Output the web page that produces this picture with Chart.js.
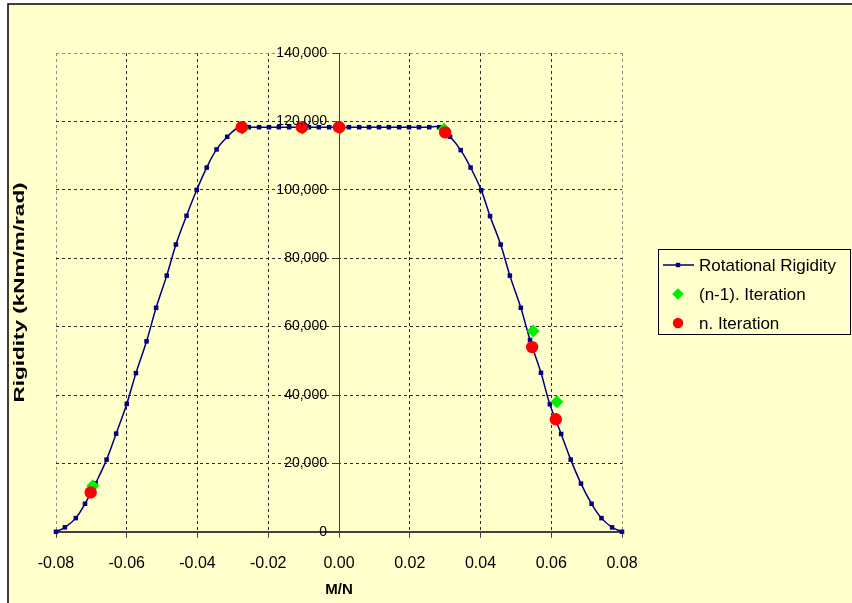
<!DOCTYPE html>
<html>
<head>
<meta charset="utf-8">
<title>Rotational Rigidity</title>
<script src="https://cdn.jsdelivr.net/npm/chart.js@4.4.1/dist/chart.umd.min.js"></script>
<style>
  html, body { margin: 0; padding: 0; background: #ffffff; }
  canvas { display: block; }
</style>
</head>
<body>
<canvas id="rigidity" width="852" height="603"></canvas>
<script>
// rigidity curve, M/N against kNm/m/rad
var curveX = [-0.0800, -0.0775, -0.0744, -0.0718, -0.0688, -0.0657, -0.0630, -0.0600, -0.0574, -0.0544,
  -0.0517, -0.0487, -0.0461, -0.0431, -0.0402, -0.0374, -0.0346, -0.0316,
  -0.0283, -0.0255, -0.0226, -0.0198, -0.0170, -0.0141, -0.0113, -0.0085, -0.0057, -0.0028, 0,
  0.0028, 0.0057, 0.0085, 0.0113, 0.0141, 0.0170, 0.0198, 0.0226, 0.0255, 0.0283,
  0.0314, 0.0344, 0.0372, 0.0402, 0.0427, 0.0457, 0.0483, 0.0514, 0.0540, 0.0571,
  0.0596, 0.0628, 0.0655, 0.0684, 0.0714, 0.0742, 0.0772, 0.0800];
var curveY = [0, 1300, 4000, 8200, 14200, 21100, 28700, 37400, 46400, 55700,
  65500, 74900, 84000, 92400, 100000, 106500, 111800, 115500,
  118300, 118300, 118300, 118300, 118300, 118300, 118300, 118300, 118300, 118300, 118300,
  118300, 118300, 118300, 118300, 118300, 118300, 118300, 118300, 118300, 118300,
  115500, 111600, 106500, 99900, 92300, 84000, 74900, 65500, 56100, 46500,
  37300, 28600, 21100, 14100, 8200, 4000, 1300, 0];

// iteration steps
var prevIterX = [-0.0696, -0.0273, -0.0103, 0.0003, 0.0297, 0.0549, 0.0616];
var prevIterY = [13500, 118000, 118000, 118000, 117700, 58700, 38000];
var lastIterX = [-0.0702, -0.0275, -0.0105, 0, 0.0300, 0.0546, 0.0613];
var lastIterY = [11500, 118300, 118300, 118300, 116800, 54000, 32900];

var seriesNames = ["Rotational Rigidity", "(n-1). Iteration", "n. Iteration"];
var xTicks = [-0.08, -0.06, -0.04, -0.02, 0, 0.02, 0.04, 0.06, 0.08];
var yTicks = [0, 20000, 40000, 60000, 80000, 100000, 120000, 140000];
var xTitle = "M/N";
var yTitle = "Rigidity (kNm/m/rad)";

var FONT = '"Liberation Sans", Arial, sans-serif';

function toPoints(xs, ys) {
  return xs.map(function (x, i) { return { x: x, y: ys[i] }; });
}

function fixedTicks(list) {
  return function (scale) {
    scale.ticks = list.map(function (v) { return { value: v }; });
  };
}

// page background and the outer frame
var framePlugin = {
  id: "frame",
  beforeDraw: function (chart) {
    var ctx = chart.ctx, w = chart.width, h = chart.height;
    ctx.save();
    ctx.fillStyle = "#ffffff";
    ctx.fillRect(0, 0, w, h);
    ctx.fillStyle = "#ffffcc";
    ctx.fillRect(8, 4, w - 8, h - 4);
    ctx.strokeStyle = "#000000";
    ctx.lineWidth = 1.5;
    ctx.beginPath();
    ctx.moveTo(8, h);
    ctx.lineTo(8, 4);
    ctx.lineTo(w, 4);
    ctx.stroke();
    ctx.restore();
  }
};

// vertical axis title, drawn widened along its baseline
var yTitlePlugin = {
  id: "yTitle",
  afterDraw: function (chart) {
    var ctx = chart.ctx, area = chart.chartArea;
    ctx.save();
    ctx.translate(20, (area.top + area.bottom) / 2);
    ctx.rotate(-Math.PI / 2);
    ctx.scale(1.5, 1);
    ctx.font = "bold 15px " + FONT;
    ctx.fillStyle = "#000000";
    ctx.textAlign = "center";
    ctx.textBaseline = "middle";
    ctx.fillText(yTitle, 0, 0);
    ctx.restore();
  }
};

function drawMarker(ctx, style, x, y, r, color) {
  ctx.fillStyle = color;
  ctx.beginPath();
  if (style === "rect") {
    ctx.rect(x - r, y - r, 2 * r, 2 * r);
  } else if (style === "rectRot") {
    ctx.moveTo(x - r, y);
    ctx.lineTo(x, y - r);
    ctx.lineTo(x + r, y);
    ctx.lineTo(x, y + r);
    ctx.closePath();
  } else {
    ctx.arc(x, y, r, 0, Math.PI * 2);
  }
  ctx.fill();
}

// boxed legend to the right of the plot
var legendBox = {
  id: "legendBox",
  afterDraw: function (chart) {
    var ctx = chart.ctx;
    var left = 658, top = 249, width = 193, height = 86;
    ctx.save();
    ctx.fillStyle = "#ffffcc";
    ctx.fillRect(left, top, width, height);
    ctx.strokeStyle = "#000000";
    ctx.lineWidth = 1;
    ctx.strokeRect(left + 0.5, top + 0.5, width - 1, height - 1);
    var rows = [265, 294, 323];
    var sizes = [2.2, 5.8, 5.2];
    chart.data.datasets.forEach(function (ds, i) {
      var y = rows[i];
      if (ds.showLine) {
        ctx.strokeStyle = ds.borderColor;
        ctx.lineWidth = 1.5;
        ctx.beginPath();
        ctx.moveTo(663, y);
        ctx.lineTo(694, y);
        ctx.stroke();
      }
      drawMarker(ctx, ds.pointStyle, 678, y, sizes[i], ds.pointBackgroundColor);
      ctx.fillStyle = "#000000";
      ctx.font = "17px " + FONT;
      ctx.textBaseline = "middle";
      ctx.textAlign = "left";
      ctx.fillText(ds.label, 699, y + 1);
    });
    ctx.restore();
  }
};

function gridColor(edges) {
  return function (c) {
    return edges.indexOf(c.tick.value) >= 0 ? "#8c8c8c" : "#2a2a2a";
  };
}

new Chart(document.getElementById("rigidity"), {
  type: "scatter",
  data: {
    datasets: [
      {
        label: seriesNames[0],
        data: toPoints(curveX, curveY),
        showLine: true,
        borderColor: "#000080",
        borderWidth: 1.5,
        tension: 0.4,
        pointStyle: "rect",
        pointRadius: 3.2,
        pointBorderWidth: 0,
        pointBackgroundColor: "#000080",
        order: 3,
        clip: false
      },
      {
        label: seriesNames[1],
        data: toPoints(prevIterX, prevIterY),
        pointStyle: "rectRot",
        pointRadius: 6.5,
        pointBorderWidth: 0,
        pointBackgroundColor: "#00ee00",
        order: 2,
        clip: false
      },
      {
        label: seriesNames[2],
        data: toPoints(lastIterX, lastIterY),
        pointStyle: "circle",
        pointRadius: 6.2,
        pointBorderWidth: 0,
        pointBackgroundColor: "#ff0000",
        order: 1,
        clip: false
      }
    ]
  },
  options: {
    responsive: false,
    animation: false,
    layout: { padding: { left: 56, right: 230, top: 53, bottom: 4 } },
    plugins: {
      legend: { display: false },
      tooltip: { enabled: false }
    },
    scales: {
      x: {
        type: "linear",
        position: "bottom",
        min: -0.08,
        max: 0.08,
        afterBuildTicks: fixedTicks(xTicks),
        ticks: {
          callback: function (v) { return Number(v).toFixed(2); },
          font: { size: 16, family: FONT },
          color: "#000000",
          padding: 16,
          maxRotation: 0
        },
        grid: {
          color: gridColor([-0.08, 0.08]),
          lineWidth: 1,
          tickLength: 6,
          tickColor: "#404040"
        },
        border: { color: "#404040", width: 2, dash: [3, 3] },
        title: {
          display: true,
          text: xTitle,
          color: "#000000",
          font: { size: 15, weight: "bold", family: FONT },
          padding: { top: -8, bottom: 0 }
        }
      },
      y: {
        type: "linear",
        position: "left",
        min: 0,
        max: 140000,
        afterBuildTicks: fixedTicks(yTicks),
        ticks: { display: false },
        grid: {
          color: gridColor([140000]),
          lineWidth: 1,
          drawTicks: false
        },
        border: { display: false, dash: [3, 3] }
      },
      // vertical axis line through M/N = 0 with its tick marks
      yAxisLine: {
        axis: "y",
        type: "linear",
        position: { x: 0 },
        min: 0,
        max: 140000,
        afterBuildTicks: fixedTicks(yTicks),
        ticks: { display: false },
        grid: {
          drawOnChartArea: false,
          tickLength: 6,
          tickColor: "#404040"
        },
        border: { color: "#404040", width: 1 }
      },
      // its value labels, set just left of the tick marks
      yLabels: {
        axis: "y",
        type: "linear",
        position: { x: -0.0034 },
        min: 0,
        max: 140000,
        afterBuildTicks: fixedTicks(yTicks),
        ticks: {
          callback: function (v) { return Number(v).toLocaleString("en-US"); },
          font: { size: 14, family: FONT },
          color: "#000000",
          padding: 0,
          z: 1
        },
        grid: { display: false },
        border: { display: false }
      }
    }
  },
  plugins: [framePlugin, yTitlePlugin, legendBox]
});
</script>
</body>
</html>
